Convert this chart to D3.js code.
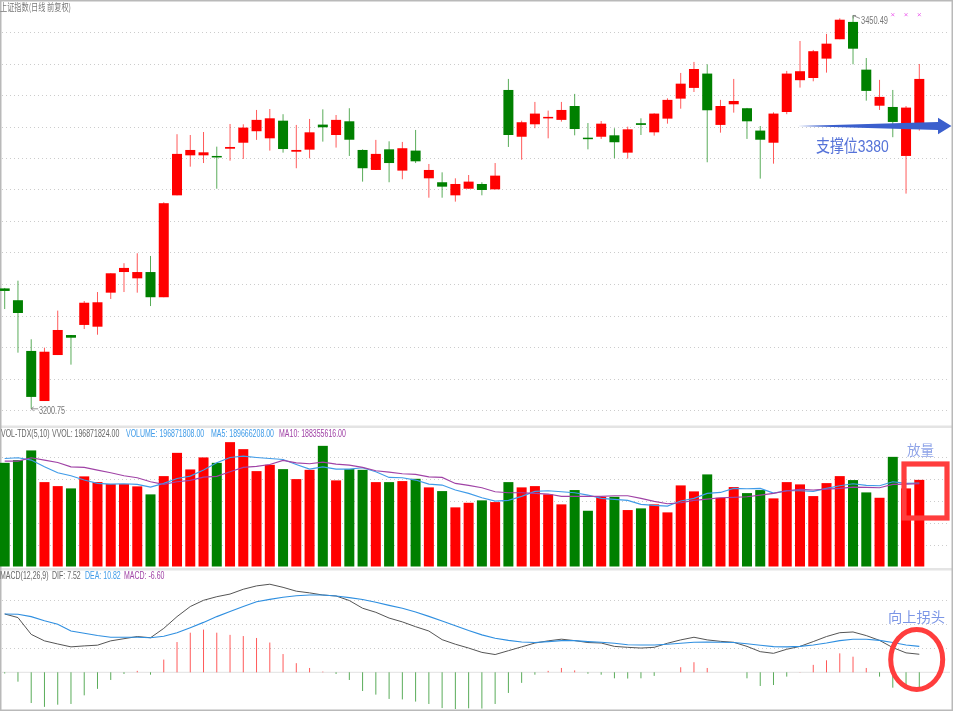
<!DOCTYPE html>
<html><head><meta charset="utf-8">
<script src="https://cdn.jsdelivr.net/npm/d3@7/dist/d3.min.js"></script>
<style>html,body{margin:0;padding:0;background:#fff;overflow:hidden}svg{display:block}</style>
</head><body><div id="chart"></div>
<script>
const open=[3277.2,3269.7,3237.5,3205.7,3234.9,3247.6,3254,3252.9,3274.5,3287.6,3283.6,3287.6,3271.6,3336.3,3361.7,3361.7,3361.3,3365.9,3369.7,3377,3372.5,3383.7,3364,3365.3,3381.2,3374.6,3383.3,3365.1,3352.4,3365.5,3352,3364.7,3347.1,3344.6,3336.3,3340.5,3343.5,3340.1,3403.2,3373.5,3381.4,3385.2,3384.2,3393,3372.9,3373.5,3374.4,3363.4,3382.1,3376.3,3385,3397.7,3404.5,3413.6,3381,3394.1,3391.6,3377.4,3369.7,3389.2,3409.4,3410.8,3423.1,3435.4,3446.4,3416.1,3393.2,3392.4,3361.3,3379.7];
const close=[3275.6,3261.6,3208.3,3237,3250.8,3245.9,3268.1,3268.4,3286.8,3290.2,3287.6,3271.6,3331.3,3362.6,3365.1,3363.6,3360.8,3367,3379.3,3384.2,3385.2,3365.7,3365.1,3376.3,3379.5,3384.2,3371.6,3353.5,3362.6,3356.8,3366.2,3357.9,3352.4,3341.8,3343.5,3345,3339.7,3348.8,3374.6,3382.7,3388.2,3386.1,3390.5,3378.4,3372.1,3381.8,3370,3378.2,3381,3388.2,3396.9,3407.2,3416.5,3390.3,3393,3396.2,3383.3,3371.6,3388.2,3413.6,3415.1,3427.8,3432.6,3447.8,3429.4,3402.6,3398.8,3382.9,3392,3410.2];
const high=[3277.5,3282.1,3244.9,3239.6,3263.1,3247.6,3269.2,3274.9,3286.8,3293.2,3299.5,3297.8,3331.9,3375.1,3374.6,3376.5,3367.2,3381.6,3381.4,3390.5,3391.1,3387.8,3381,3384.8,3390.9,3387.3,3391.6,3365.5,3371.5,3370.6,3370.2,3377.8,3356.2,3350.9,3347.1,3349.2,3344.6,3356.8,3410.2,3383.7,3395.6,3390.1,3395.6,3400.7,3382.2,3383.5,3378.9,3379.9,3385.2,3388.4,3397.9,3414,3421,3419.5,3396.9,3410.2,3391.8,3380.3,3389,3415.3,3434.3,3428.6,3438.8,3448.7,3450.49,3423.5,3409.6,3403.2,3393,3419.7];
const low=[3264.1,3236.4,3200.75,3205.7,3234.9,3228.8,3251.4,3247.8,3270.5,3274.9,3274.5,3266,3271.6,3336.3,3354.5,3356.8,3340.5,3358.3,3359.4,3371.5,3364.7,3363.4,3353.5,3359.8,3370.4,3366.6,3361.3,3345,3352.4,3344.6,3346.5,3356.8,3334.8,3334.8,3332.3,3340.5,3336.3,3340.1,3367,3358.9,3378.9,3372.5,3383.1,3374.4,3365.5,3372.1,3359.8,3359.6,3374.6,3374.2,3381.8,3391.3,3401.9,3357.3,3376.1,3388.8,3372.1,3346.9,3356.4,3387.8,3404.7,3408.7,3414.2,3435.4,3419.5,3396.4,3390.5,3373.2,3337.4,3377.4];
const volume=[235.6,241.8,263.8,191.8,182.7,177.5,204.8,191.8,187.3,187.3,182.1,163.9,205.4,258.3,220.6,247.9,235.6,282.6,266.7,216.8,231.1,221.3,198.6,219.7,274.2,195.7,221.3,219.7,191.8,191.8,194.1,199.3,179.8,171.4,134.4,144.8,150.3,146.4,191.8,179.8,182.7,163.9,141.2,173.7,126.7,158.4,158.4,128.3,132.1,141.2,123,184.3,170.7,209.3,156.2,180.5,166.8,173.7,154.8,191.8,186.6,160,189.5,205.4,196.4,168.4,156.2,249.2,177.5,196.87];
const ma5=[245.6,247,241.8,226.5,212.9,206.1,196.4,188.9,187.3,188,186.6,180.5,188.9,200.2,205.4,219.1,235.6,247.9,250.8,247.9,245.6,243.3,232,221.3,226.5,221.3,221.3,224.3,215.2,202.5,201.6,196.4,187.3,185,173.7,166.2,156.2,148.7,150.3,159.4,170.7,172.1,169.8,167.5,162.3,154.8,152.5,150.3,141.2,138.9,137.3,148.7,154.8,166.2,168.4,177.5,176.6,177.5,166.8,172.1,172.1,170.7,177.5,183.4,188,184.3,183.4,192.5,188.9,189.67];
const ma10=[239.5,239.5,247,241.8,236.5,226.5,225.2,219.1,212.9,206.1,201.6,192.5,186.6,192.5,195.7,203.2,204.8,215.2,225.2,227.5,232,241.1,235.6,233.4,237.2,232.7,230.4,225.2,217.5,214.5,210.7,209.3,203.8,202.5,188.9,184.3,178.9,169.8,167.5,167.5,166.2,164.6,159.4,159.4,159.4,159.4,160.7,160.7,154.8,148,142.6,144.8,150.3,153.2,156.2,157.1,158.4,162.3,166.2,172.1,175.2,173.7,175.9,177.5,180.5,179.8,178.9,186.6,187.3,188.36];
const dif=[24.3,22.8,15.8,13.1,11.8,10.6,11,11.3,13.1,14,14.9,14.4,18.3,23.2,27.4,30,31.5,32.6,34.6,36,36.7,35.4,33.8,33.1,32.2,31.8,29.9,26.7,25,22.6,21,19,17.2,13.6,11.7,10.1,8.3,7.4,9,10.6,12.2,13.1,13.8,13.2,12.4,12.2,10.8,10.4,10.1,10.4,12.1,13.5,14.6,13.5,12.9,12.5,10.8,8.6,7.9,9.6,10.8,12.8,14.9,16.5,16.8,15.3,13.3,10.3,8.1,7.52];
const dea=[24.3,24.2,23.2,21.5,20,17.2,16.3,15.3,14.6,14.6,14.6,14.4,15,16.5,18.6,20.8,23.2,25.3,27.4,29.4,30.4,31.3,31.9,32.2,32.2,31.8,31.1,30.3,29.2,27.9,26.7,25.1,23.3,21.4,19.4,17.4,15.6,14.2,13.3,12.6,12.4,12.8,13.2,13.2,12.8,12.5,12.1,11.5,11.4,11.4,11.7,12.1,12.5,12.6,12.5,12.4,11.9,11.3,10.7,10.6,10.8,11.4,12.2,13.2,13.8,13.8,13.3,12.4,11.4,10.82];
const macd=[-0.5,-3.9,-12.8,-14.4,-13.5,-13.2,-9.6,-6.9,-3.2,-0.7,0.6,-1,5.3,12.6,16.5,17.8,16.5,15.6,15.1,14.3,12.4,7.6,3.8,1.8,0.3,-0.7,-3.2,-7.8,-9.3,-11.1,-11.3,-12.2,-13.2,-14.9,-15.3,-15,-15.1,-13.2,-8.6,-4.4,-1,0.6,1.8,0.8,-0.6,-1,-2.5,-2.6,-2.5,-1.5,0,2.1,4.2,1.8,0,0,-2.5,-5.7,-5.3,-1.8,0.1,3.1,5,7.9,6.5,1.8,-1.8,-6.4,-6,-6.6];
const priceGrid=[3200,3220,3240,3260,3280,3300,3320,3340,3360,3380,3400,3420,3440];
const volGrid=[50,100,150,200,250];
const macdGrid=[10,20,30];
const volLegend=['VOL-TDX(5,10)','VVOL: 196871824.00','VOLUME: 196871808.00','MA5: 189666208.00','MA10: 188355616.00'];
const macdLegend=['MACD(12,26,9)','DIF: 7.52','DEA: 10.82','MACD: -6.60'];
const RED='#ff0000',GREEN='#008000';
const LATIN='"Liberation Sans",Arial,sans-serif',CJK='"Noto Sans CJK SC","Noto Sans",sans-serif';

const W=953,H=711;
const idx=d3.range(open.length);
const svg=d3.select('#chart').append('svg').attr('width',W).attr('height',H).attr('viewBox',`0 0 ${W} ${H}`);
svg.append('defs').append('filter').attr('id','soft').attr('x','-2%').attr('y','-2%').attr('width','104%').attr('height','104%')
  .append('feGaussianBlur').attr('stdDeviation',0.35);
const root=svg.append('g').attr('filter','url(#soft)');
root.append('rect').attr('width',W).attr('height',H).attr('fill','#fff');

const x=d3.scalePoint().domain(idx).range([4.7,919.3]);
const y=d3.scaleLinear().domain([3200,3440]).range([410,32]);
const yV=d3.scaleLinear().domain([0,250]).range([566.5,456.5]);
const yM=d3.scaleLinear().domain([0,30]).range([672.3,600.3]);
const BW=10;
const col=i=>close[i]>=open[i]?RED:GREEN;

// frame and panel separators
const frame=root.append('g').attr('fill','#e4e4e4');
frame.append('rect').attr('x',0).attr('y',425.5).attr('width',W).attr('height',2.5);
frame.append('rect').attr('x',0).attr('y',568).attr('width',W).attr('height',2.5);
const border=root.append('g').attr('fill','#b9b9b9');
border.append('rect').attr('x',0).attr('y',0).attr('width',W).attr('height',1.5);
border.append('rect').attr('x',0).attr('y',0).attr('width',1.5).attr('height',H);
border.append('rect').attr('x',951.5).attr('y',0).attr('width',1.5).attr('height',H);
border.append('rect').attr('x',0).attr('y',709.5).attr('width',W).attr('height',1.5);

// grids
function grid(vals,scale){
  root.append('g').selectAll('line').data(vals).join('line')
    .attr('x1',2).attr('x2',950).attr('y1',d=>Math.round(scale(d))+.5).attr('y2',d=>Math.round(scale(d))+.5)
    .attr('stroke','#cccccc').attr('stroke-width',1).attr('stroke-dasharray','1 3');
}
grid(priceGrid,y);grid(volGrid,yV);grid(macdGrid,yM);
root.append('line').attr('x1',2).attr('x2',950).attr('y1',yM(0)).attr('y2',yM(0)).attr('stroke','#e2e2e2');

// candles
const c=root.append('g');
c.selectAll('line').data(idx).join('line')
  .attr('x1',i=>x(i)).attr('x2',i=>x(i)).attr('y1',i=>y(high[i])).attr('y2',i=>y(low[i]))
  .attr('stroke',col).attr('stroke-width',1).attr('stroke-opacity',.65);
c.selectAll('rect').data(idx).join('rect')
  .attr('x',i=>x(i)-BW/2).attr('width',BW)
  .attr('y',i=>y(Math.max(open[i],close[i])))
  .attr('height',i=>Math.max(1.5,Math.abs(y(open[i])-y(close[i]))))
  .attr('fill',col);

// volume
root.append('g').selectAll('rect').data(idx).join('rect')
  .attr('x',i=>x(i)-BW/2).attr('width',BW)
  .attr('y',i=>yV(volume[i])).attr('height',i=>yV(0)-yV(volume[i])).attr('fill',col);
const lineV=d3.line().x((d,i)=>x(i)).y(d=>yV(d));
root.append('path').attr('d',lineV(ma5)).attr('fill','none').attr('stroke','#3f9be8').attr('stroke-width',1.1);
root.append('path').attr('d',lineV(ma10)).attr('fill','none').attr('stroke','#a043a6').attr('stroke-width',1.1);

// macd
root.append('g').selectAll('line').data(idx.filter(i=>macd[i]!==0)).join('line')
  .attr('x1',i=>x(i)).attr('x2',i=>x(i)).attr('y1',yM(0)).attr('y2',i=>yM(macd[i]))
  .attr('stroke',i=>macd[i]>0?RED:GREEN).attr('stroke-width',1).attr('stroke-opacity',.65);
const lineM=d3.line().x((d,i)=>x(i)).y(d=>yM(d));
root.append('path').attr('d',lineM(dif)).attr('fill','none').attr('stroke','#555').attr('stroke-width',1);
root.append('path').attr('d',lineM(dea)).attr('fill','none').attr('stroke','#2f8fe0').attr('stroke-width',1.1);

// text helpers
function label(t,xp,yp,w,fill,size,font){
  const e=root.append('text').attr('x',xp).attr('y',yp).attr('fill',fill)
    .attr('font-size',size||10).attr('font-family',font||LATIN).text(t);
  if(w) e.attr('textLength',w).attr('lengthAdjust','spacingAndGlyphs');
  return e;
}
// one condensed text per legend row, its parts placed with tspans
const SX=0.7;
function legendRow(parts,xs,cols,yp){
  root.append('text').attr('transform',`translate(0,${yp}) scale(${SX},1)`)
    .attr('font-size',10).attr('font-family',LATIN)
    .selectAll('tspan').data(parts).join('tspan')
    .attr('x',(d,i)=>xs[i]/SX).attr('fill',(d,i)=>cols[i]).text(d=>d);
}
label('上证指数(日线 前复权)',0,11,71,'#777',10,CJK);
legendRow(volLegend,[1,52,126,211,279],['#666','#666','#3f9be8','#3f9be8','#a043a6'],436.5);
legendRow(macdLegend,[0,52,85,124],['#666','#666','#3f9be8','#a043a6'],578.8);

// extreme markers
label('3200.75',39,414,26,'#777');
root.append('path').attr('d',`M${x(2)} ${y(3200.75)} h7 M${x(2)} ${y(3200.75)} l2.5 -2 M${x(2)} ${y(3200.75)} l2.5 2`).attr('stroke','#777').attr('fill','none').attr('stroke-width',.8);
label('3450.49',861,23.5,27,'#777');
root.append('path').attr('d',`M${x(64)} ${y(3450.49)} l7 3 M${x(64)} ${y(3450.49)} l0.3 3 M${x(64)} ${y(3450.49)} l3 0`).attr('stroke','#777').attr('fill','none').attr('stroke-width',.8);
root.append('g').selectAll('path').data([67,68,69]).join('path')
  .attr('d',i=>`M${x(i)-1.5} 13.2 l3 3 M${x(i)+1.5} 13.2 l-3 3`).attr('stroke','#ee66ee').attr('fill','none').attr('stroke-width',.9);

// annotations
const ay=y(3380);
root.append('path').attr('d',`M798 ${ay-.5} L938 122 L938 117.7 L951.5 126 L938 134.3 L938 130 Z`).attr('fill','#3a5fcd');
root.append('text').attr('transform','translate(816,151.5) scale(.82,1)').attr('fill','#5472d8')
  .attr('font-family','"Liberation Sans","Noto Sans CJK SC",sans-serif').attr('font-size',17).text('支撑位3380');
label('放量',907,455,27,'#8fa4e8',14,CJK);
root.append('rect').attr('x',904).attr('y',464).attr('width',43).attr('height',54).attr('fill','none').attr('stroke','#ff3c3c').attr('stroke-width',5.2);
label('向上拐头',888,622,57,'#7c96e6',14,CJK);
root.append('ellipse').attr('cx',916.7).attr('cy',659.5).attr('rx',26).attr('ry',30).attr('fill','none').attr('stroke','#ff3c3c').attr('stroke-width',5);
</script></body></html>
